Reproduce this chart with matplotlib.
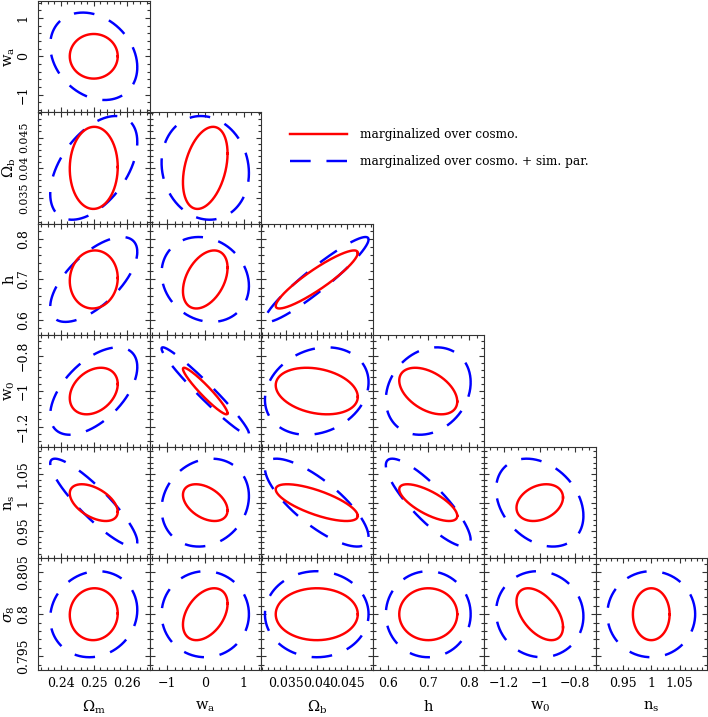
import numpy as np
import matplotlib
matplotlib.use("Agg")
import matplotlib.pyplot as plt
from matplotlib.ticker import MultipleLocator, FuncFormatter
from matplotlib.lines import Line2D

plt.rcParams["font.family"] = "DejaVu Serif"
plt.rcParams["mathtext.fontset"] = "dejavuserif"

# ==== parameters (same order for rows and columns)
labels = [r"$\Omega_{\rm m}$", r"$\rm w_a$", r"$\Omega_{\rm b}$", "h",
          r"$\rm w_0$", r"$\rm n_s$", r"$\sigma_8$"]
fiducial = [0.25, 0.0, 0.04, 0.7, -1.0, 1.0, 0.8]
half_range = [0.0169, 1.455, 0.0092, 0.138, 0.314, 0.098, 0.00664]
major_step = [0.01, 1.0, 0.005, 0.1, 0.2, 0.05, 0.005]

# half extent of the contours along each parameter
red_half = [0.00727, 0.582, 0.00677, 0.0718, 0.131, 0.0323, 0.00309]
blue_half = [0.0132, 1.14, 0.00855, 0.105, 0.246, 0.0772, 0.00512]

# correlation of each pair: row i -> y param i+1, column j -> x param j
red_rho = [
    [0.0],
    [0.02, 0.35],
    [0.05, 0.40, 0.91],
    [0.30, -0.95, -0.25, -0.45],
    [-0.50, -0.42, -0.72, -0.72, 0.28],
    [0.03, 0.40, 0.0, 0.0, -0.50, 0.0],
]
blue_rho = [
    [-0.25],
    [0.50, -0.10],
    [0.65, -0.15, 0.94],
    [0.55, -0.97, 0.20, 0.20],
    [-0.89, 0.15, -0.78, -0.85, -0.30],
    [0.10, 0.0, 0.0, 0.0, -0.05, 0.0],
]

legend_labels = ["marginalized over cosmo.",
                 "marginalized over cosmo. + sim. par."]


def contour(cx, cy, sx, sy, rho, n=400):
    t = np.linspace(0, 2 * np.pi, n)
    x = cx + sx * np.cos(t)
    y = cy + sy * (rho * np.cos(t) + np.sqrt(1 - rho ** 2) * np.sin(t))
    return x, y


def fmt(v, pos):
    return ("%g" % round(v, 6)).replace("-", "\u2212")


W, H = 708, 717
fig = plt.figure(figsize=(W / 100, H / 100), dpi=100)

left, right = 38 / W, 707 / W
top, bottom = 1 - 0.5 / H, 1 - 670 / H
npan = 6
pw = (right - left) / npan
ph = (top - bottom) / npan

blue_style = (0, (8.5, 6.5))
lw = 1.75

for i in range(npan):
    r = i + 1
    for j in range(i + 1):
        c = j
        ax = fig.add_axes([left + j * pw, top - (i + 1) * ph, pw, ph])

        xb, yb = contour(fiducial[c], fiducial[r], blue_half[c], blue_half[r], blue_rho[i][j])
        ax.plot(xb, yb, color="blue", lw=lw, linestyle=blue_style)
        xr, yr = contour(fiducial[c], fiducial[r], red_half[c], red_half[r], red_rho[i][j])
        ax.plot(xr, yr, color="red", lw=lw)

        ax.set_xlim(fiducial[c] - half_range[c], fiducial[c] + half_range[c])
        ax.set_ylim(fiducial[r] - half_range[r], fiducial[r] + half_range[r])

        ax.xaxis.set_major_locator(MultipleLocator(major_step[c]))
        ax.xaxis.set_minor_locator(MultipleLocator(major_step[c] / 5))
        ax.yaxis.set_major_locator(MultipleLocator(major_step[r]))
        ax.yaxis.set_minor_locator(MultipleLocator(major_step[r] / 5))
        ax.xaxis.set_major_formatter(FuncFormatter(fmt))
        ax.yaxis.set_major_formatter(FuncFormatter(fmt))

        ax.tick_params(which="both", direction="in", top=True, right=True,
                       width=0.8, labelsize=9, color="#333333")
        ax.tick_params(which="major", length=3.8)
        ax.tick_params(which="minor", length=2.0)
        ax.tick_params(axis="x", pad=5)
        ax.tick_params(axis="y", pad=6)
        for s in ax.spines.values():
            s.set_linewidth(0.8)
            s.set_color("#333333")

        if j == 0:
            # the Omega_b labels are long, keep them from running into each other
            ysize = 7.9 if r == 2 else 9
            for lab in ax.get_yticklabels():
                lab.set_rotation(90)
                lab.set_va("center")
                lab.set_fontsize(ysize)
            ax.set_ylabel(labels[r], fontsize=10.5, va="center")
            ax.yaxis.set_label_coords(-0.255, 0.5)
        else:
            ax.tick_params(axis="y", labelleft=False)

        if i == npan - 1:
            ax.set_xlabel(labels[c], fontsize=10.5, va="center")
            ax.xaxis.set_label_coords(0.5, -0.33)
        else:
            ax.tick_params(axis="x", labelbottom=False)

# legend in the empty upper-right area
handles = [Line2D([], [], color="red", lw=lw),
           Line2D([], [], color="blue", lw=lw, linestyle=blue_style)]
fig.legend(handles, legend_labels, loc="upper left",
           bbox_to_anchor=(290 / W, 1 - 128 / H), frameon=False,
           fontsize=8.7, handlelength=4.7, handletextpad=1.1,
           labelspacing=1.15, borderpad=0, borderaxespad=0)

fig.savefig("out.png", dpi=100)
